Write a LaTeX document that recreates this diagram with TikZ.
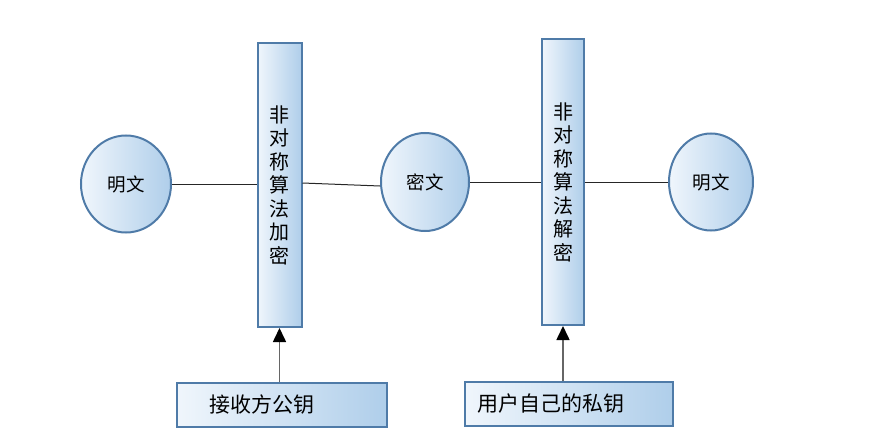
\documentclass[tikz,border=0pt]{standalone}
\usepackage{fontspec}
\setmainfont{Noto Sans CJK SC}
\usetikzlibrary{arrows.meta,shapes.geometric}
\definecolor{bord}{HTML}{4F7BA8}
\definecolor{lblue}{HTML}{AFCEEA}
\definecolor{wblue}{HTML}{F0F6FC}
\tikzset{
  shapeborder/.style={draw=bord, line width=2pt, left color=wblue, right color=lblue},
  circ/.style={shapeborder, ellipse, inner sep=0pt, font=\fontsize{18.5pt}{18.5pt}\selectfont},
  vbar/.style={shapeborder, rectangle, inner sep=0pt, align=center,
     font=\fontsize{20pt}{23.5pt}\selectfont},
  keybox/.style={shapeborder, rectangle, inner sep=0pt, minimum height=44pt,
     font=\fontsize{21pt}{21pt}\selectfont},
  link/.style={draw=black!85, line width=1pt},
  keyarrow/.style={draw=black!60, line width=1.6pt, -{Triangle[length=14pt,width=13pt,black]}}
}
\begin{document}
\begin{tikzpicture}[x=1pt,y=-1pt]
\useasboundingbox (0,0) rectangle (876,444);
\node[circ, minimum width=90pt, minimum height=97pt] (c1) at (126,184) {明文};
\node[circ, minimum width=88pt, minimum height=98pt] (c2) at (425,182) {密文};
\node[circ, minimum width=84pt, minimum height=97pt] (c3) at (711,182) {明文};
\node[vbar, minimum width=44pt, minimum height=284pt] (r1) at (279.5,185) {非\\对\\称\\算\\法\\加\\密};
\node[vbar, minimum width=42pt, minimum height=286pt] (r2) at (563,182) {非\\对\\称\\算\\法\\解\\密};
\node[keybox, minimum width=210pt, text width=190pt, align=left] (k1) at (282,405) {\hspace{22pt}接收方公钥};
\node[keybox, minimum width=208pt, text width=196pt, align=left] (k2) at (569,404) {\hspace{6pt}用户自己的私钥};
\coordinate (r1e) at ([yshift=2pt]r1.east);
\coordinate (c2w) at ([yshift=-4pt]c2.west);
\path[link] (c1.east) -- (c1.east -| r1.west);
\path[link] (r1e) -- (c2w);
\path[link] (c2.east) -- (c2.east -| r2.west);
\path[link] (c3.west -| r2.east) -- (c3.west);
\path[keyarrow] (k1.north -| r1.south) -- (r1.south);
\path[keyarrow] (k2.north -| r2.south) -- (r2.south);
\end{tikzpicture}
\end{document}
